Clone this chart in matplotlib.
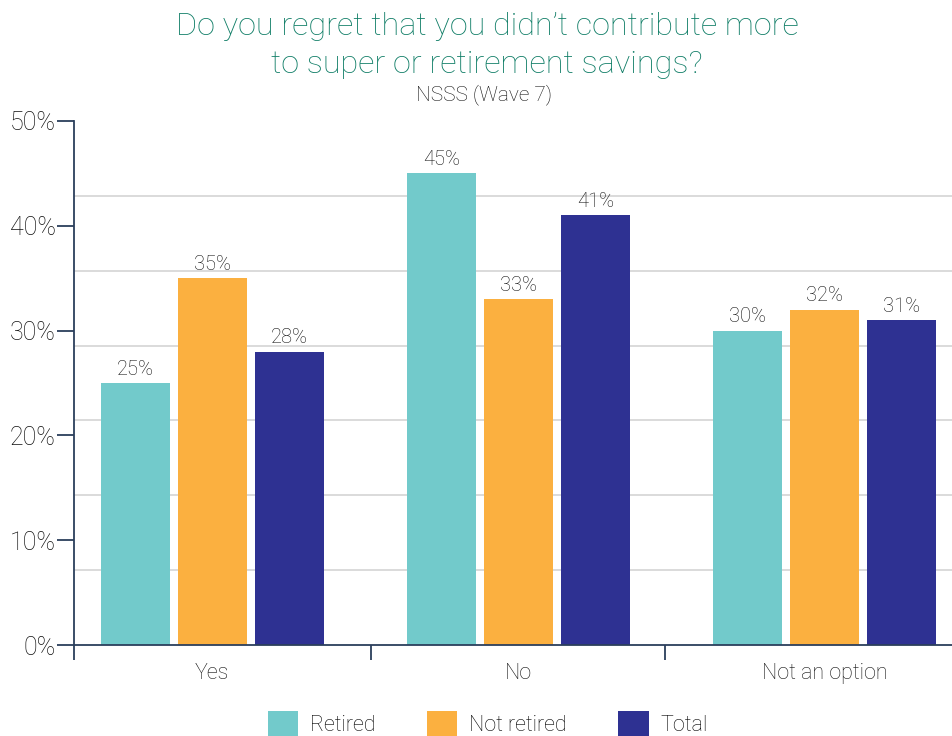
import numpy as np
import matplotlib
matplotlib.use("Agg")
import matplotlib.pyplot as plt
from matplotlib.patches import Patch

plt.rcParams['font.family'] = ['Roboto', 'Liberation Sans', 'DejaVu Sans']
plt.rcParams['font.weight'] = 'light'

categories = ["Yes", "No", "Not an option"]
series_names = ["Retired", "Not retired", "Total"]
retired = [25, 45, 30]
not_retired = [35, 33, 32]
total = [28, 41, 31]
y_ticks = [0, 10, 20, 30, 40, 50]
y_tick_labels = ["0%", "10%", "20%", "30%", "40%", "50%"]

colors = ["#72CACB", "#FBB040", "#2E3192"]
axis_color = "#2B3F5C"
title_color = "#0F7D66"
text_color = "#111111"

fig = plt.figure(figsize=(9.53, 7.36), dpi=100)
ax = fig.add_axes([0.0777, 0.1236, 0.9223, 0.712])

x = np.arange(len(categories))
bar_w = 0.225
step = 0.2516
for i, (vals, col, name) in enumerate(zip([retired, not_retired, total], colors, series_names)):
    xs = x + (i - 1) * step
    bars = ax.bar(xs, vals, width=bar_w, color=col, label=name, zorder=3)
    for b, v in zip(bars, vals):
        ax.annotate(f"{v}%", (b.get_x() + b.get_width() / 2, v),
                    xytext=(0, 3), textcoords="offset points",
                    ha="center", va="bottom", fontsize=14.5, color=text_color)

ax.set_xlim(-0.451, 2.42)
ax.set_ylim(0, 50)

# y axis: labelled ticks every 10%, gridlines split into seven bands
ax.set_yticks(y_ticks)
ax.set_yticklabels(y_tick_labels, fontsize=18, color=text_color)
ax.set_yticks(np.linspace(0, 50, 8), minor=True)
ax.tick_params(axis="y", which="major", direction="out", length=12, width=1.3,
               color=axis_color, pad=1)
ax.tick_params(axis="y", which="minor", length=0)
ax.grid(axis="y", which="minor", color="#DADADA", linewidth=1.4, zorder=0)

# x axis: category labels centred, tick marks between categories
ax.set_xticks(x)
ax.set_xticklabels(categories, fontsize=15.5, color=text_color)
ax.set_xticks([-0.451, 0.52, 1.48], minor=True)
ax.tick_params(axis="x", which="major", length=0, pad=13)
ax.tick_params(axis="x", which="minor", direction="out", length=11, width=1.3,
               color=axis_color)

for side in ["top", "right"]:
    ax.spines[side].set_visible(False)
for side in ["left", "bottom"]:
    ax.spines[side].set_color(axis_color)
    ax.spines[side].set_linewidth(1.3)
    ax.spines[side].set_zorder(4)

fig.text(0.511, 0.964, "Do you regret that you didn\u2019t contribute more",
         ha="center", va="center", fontsize=23.3, color=title_color)
fig.text(0.511, 0.912, "to super or retirement savings?",
         ha="center", va="center", fontsize=23.3, color=title_color)
fig.text(0.508, 0.871, "NSSS (Wave 7)", ha="center", va="center",
         fontsize=15, color=text_color)

handles = [Patch(facecolor=c, edgecolor="none") for c in colors]
fig.legend(handles, series_names, loc="lower center", bbox_to_anchor=(0.512, 0.0),
           ncol=3, frameon=False, fontsize=15.5, handlelength=1.4, handleheight=1.4,
           handletextpad=0.55, columnspacing=2.4, borderpad=0.0, borderaxespad=0.0)

fig.savefig("out.png", dpi=100)
